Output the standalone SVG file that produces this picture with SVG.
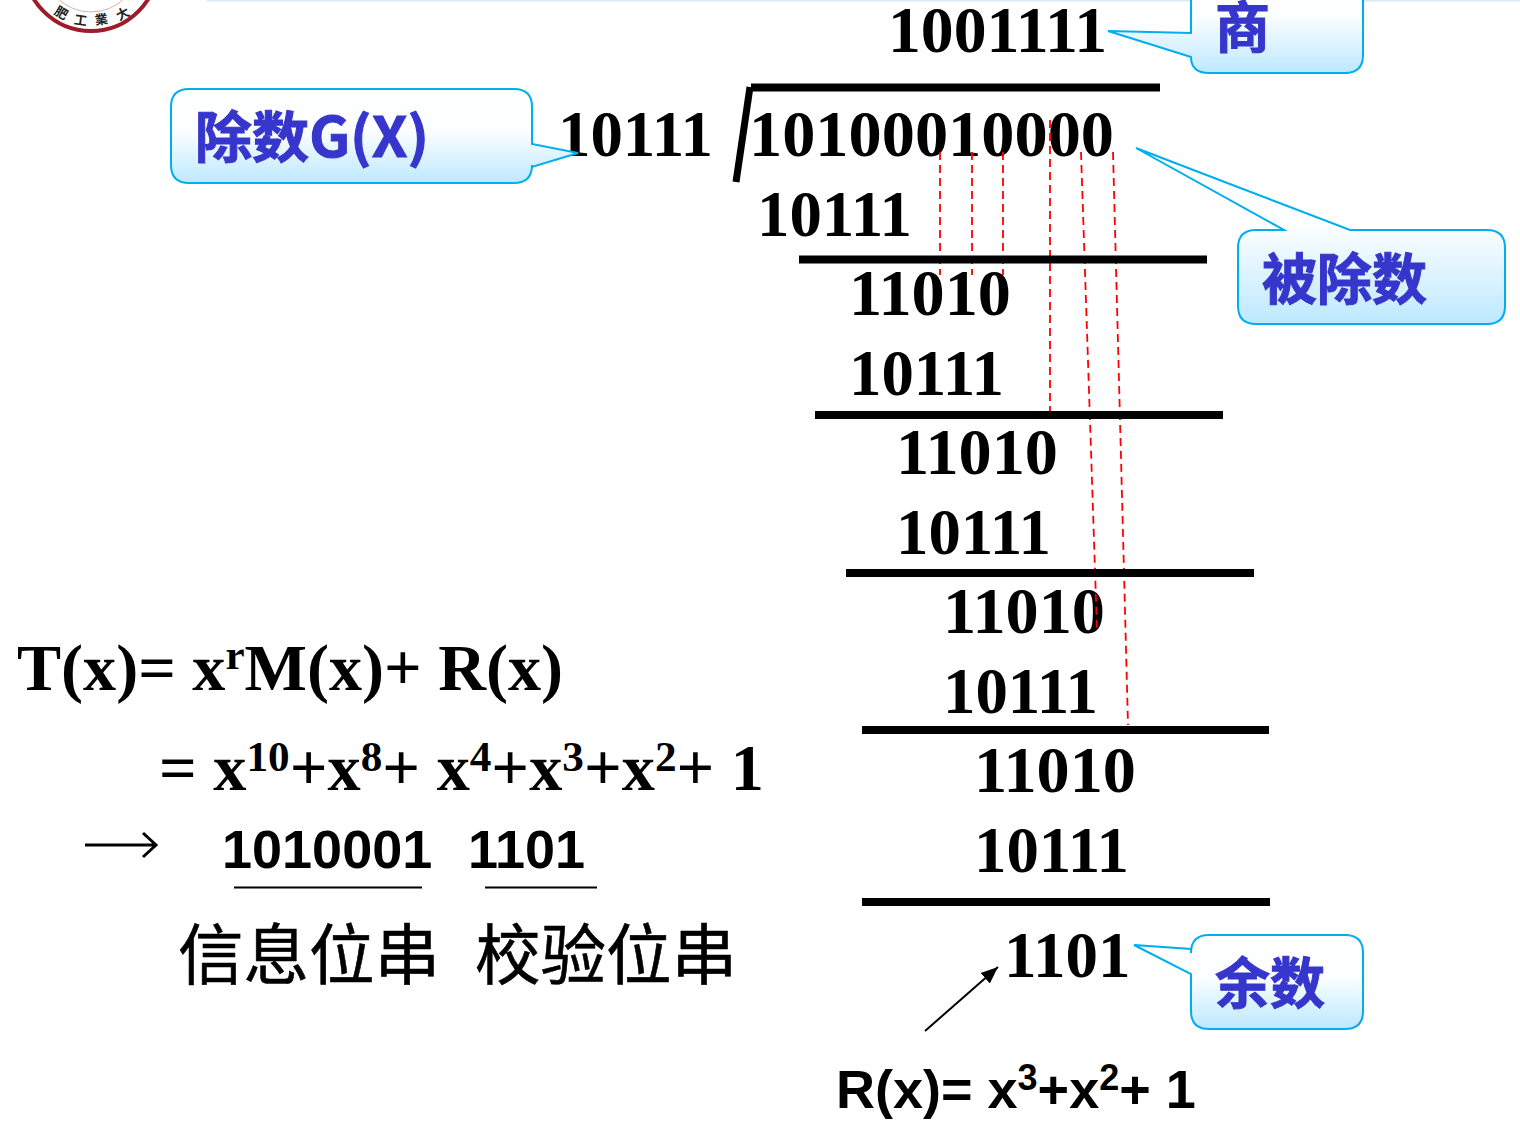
<svg xmlns="http://www.w3.org/2000/svg" width="1520" height="1146" viewBox="0 0 1520 1146">
<style>
.d{font:bold 65px "Liberation Serif","Noto Sans CJK SC",serif;fill:#000}
.f{font:bold 66px "Liberation Serif",serif;fill:#000}
.s{font-size:43px}
.a{font:bold 54px "Liberation Sans","Noto Sans CJK SC",sans-serif;fill:#000}
.c{font:bold 55px "Noto Sans CJK SC","Liberation Sans",sans-serif;fill:#3636cc;stroke:#3636cc;stroke-width:1}
.z{font:65.500px "Noto Sans CJK SC",serif;fill:#000;stroke:#000;stroke-width:.6}
.b{stroke:#000;stroke-width:8;fill:none}
.r{stroke:#f00;stroke-width:1.800;stroke-dasharray:8 5;fill:none}
.k{fill:url(#g);stroke:#00aeef;stroke-width:2}
.u{stroke:#000;stroke-width:2}
</style>
<defs>
<linearGradient id="g" x1="0" y1="0" x2="0" y2="1"><stop offset="0" stop-color="#fff"/><stop offset=".45" stop-color="#fbfeff"/><stop offset="1" stop-color="#bde8ff"/></linearGradient>
<marker id="m" markerWidth="18" markerHeight="18" refX="17" refY="9" orient="auto" markerUnits="userSpaceOnUse"><path d="M0 2L17 9L0 16Z" fill="#000"/></marker>
</defs>
<rect width="1520" height="1146" fill="#fff"/>
<rect x="207" y="0" width="1313" height="1.500" fill="#d6ecf8"/>
<g id="seal">
<circle cx="91" cy="-36" r="67" fill="none" stroke="#9e1b2b" stroke-width="4"/>
<circle cx="91" cy="-36" r="48" fill="none" stroke="#d8b0b0" stroke-width="1"/>
<g font-family="Noto Sans CJK SC,sans-serif" font-size="13" font-weight="bold" fill="#222" text-anchor="middle">
<text transform="translate(59 17) rotate(30)">肥</text>
<text transform="translate(80 25) rotate(8)">工</text>
<text transform="translate(102 24) rotate(-8)">業</text>
<text transform="translate(125 18) rotate(-28)">大</text>
</g>
</g>
<g id="division">
<text class="d" x="888" y="52" textLength="219" lengthAdjust="spacingAndGlyphs">1001111</text>
<text class="d" x="558" y="156" textLength="155" lengthAdjust="spacingAndGlyphs">10111</text>
<text class="d" x="749" y="156" textLength="365" lengthAdjust="spacingAndGlyphs">10100010000</text>
<text class="d" x="757" y="236" textLength="155" lengthAdjust="spacingAndGlyphs">10111</text>
<text class="d" x="849" y="315" textLength="162" lengthAdjust="spacingAndGlyphs">11010</text>
<text class="d" x="849" y="395" textLength="155" lengthAdjust="spacingAndGlyphs">10111</text>
<text class="d" x="896" y="474" textLength="162" lengthAdjust="spacingAndGlyphs">11010</text>
<text class="d" x="896" y="554" textLength="155" lengthAdjust="spacingAndGlyphs">10111</text>
<text class="d" x="943" y="633" textLength="162" lengthAdjust="spacingAndGlyphs">11010</text>
<text class="d" x="943" y="713" textLength="155" lengthAdjust="spacingAndGlyphs">10111</text>
<text class="d" x="974" y="792" textLength="162" lengthAdjust="spacingAndGlyphs">11010</text>
<text class="d" x="974" y="872" textLength="155" lengthAdjust="spacingAndGlyphs">10111</text>
<text class="d" x="1004" y="977">1101</text>
</g>
<g id="connectors">
<path class="r" d="M940 152V275M972 152V275M1003 152V275M1050 120V415M1081 152L1097 630M1113 152L1128 725"/>
<path d="M925 1031L998 967" stroke="#000" stroke-width="2" fill="none" marker-end="url(#m)"/>
<path d="M85 845H155M143 833L156 845L143 857" stroke="#000" stroke-width="3" fill="none"/>
</g>
<g id="rules">
<path class="b" d="M751 87.500H1160M799 259.500H1207M815 415H1223M846 573H1254M862 730H1269M862 902H1270"/>
<path d="M750 87L736 182" stroke="#000" stroke-width="7" fill="none"/>
</g>
<g id="quotient-callout">
<path class="k" d="M1191 -30H1363V55Q1363 73 1345 73H1209Q1191 73 1191 57L1108 31L1191 33Z"/>
<text class="c" x="1215" y="47">商</text>
</g>
<g id="divisor-callout">
<path class="k" d="M189 89H514Q532 89 532 107V144L578 153L532 167V165Q532 183 514 183H189Q171 183 171 165V107Q171 89 189 89Z"/>
<text class="c" x="195" y="157" textLength="234" lengthAdjust="spacingAndGlyphs">除数G(X)</text>
</g>
<g id="dividend-callout">
<path class="k" d="M1256 230H1284L1136 148L1350 230H1487Q1505 230 1505 248V306Q1505 324 1487 324H1256Q1238 324 1238 306V248Q1238 230 1256 230Z"/>
<text class="c" x="1262" y="299">被除数</text>
</g>
<g id="remainder-callout">
<path class="k" d="M1209 935H1345Q1363 935 1363 953V1011Q1363 1029 1345 1029H1209Q1191 1029 1191 1011V974L1134 945L1191 949V953Q1191 935 1209 935Z"/>
<text class="c" x="1215" y="1003">余数</text>
</g>
<g id="formula">
<text class="f" x="17" y="690" textLength="546" lengthAdjust="spacingAndGlyphs">T(x)= x<tspan class="s" dy="-21">r</tspan><tspan dy="21">M(x)+ R(x)</tspan></text>
<text class="f" x="159" y="790" textLength="605" lengthAdjust="spacingAndGlyphs">= x<tspan class="s" dy="-19">10</tspan><tspan dy="19">+x</tspan><tspan class="s" dy="-19">8</tspan><tspan dy="19">+ x</tspan><tspan class="s" dy="-19">4</tspan><tspan dy="19">+x</tspan><tspan class="s" dy="-19">3</tspan><tspan dy="19">+x</tspan><tspan class="s" dy="-19">2</tspan><tspan dy="19">+ 1</tspan></text>
<text class="a" x="222" y="868">1010001</text>
<text class="a" x="468" y="868">1101</text>
<path class="u" d="M234 887.500H422M485 887.500H597"/>
<text class="z" x="178" y="979">信息位串</text>
<text class="z" x="475" y="979">校验位串</text>
<text class="a" x="836" y="1108" font-size="54.500">R(x)= x<tspan font-size="36" dy="-18">3</tspan><tspan dy="18">+x</tspan><tspan font-size="36" dy="-18">2</tspan><tspan dy="18">+ 1</tspan></text>
</g>
</svg>
